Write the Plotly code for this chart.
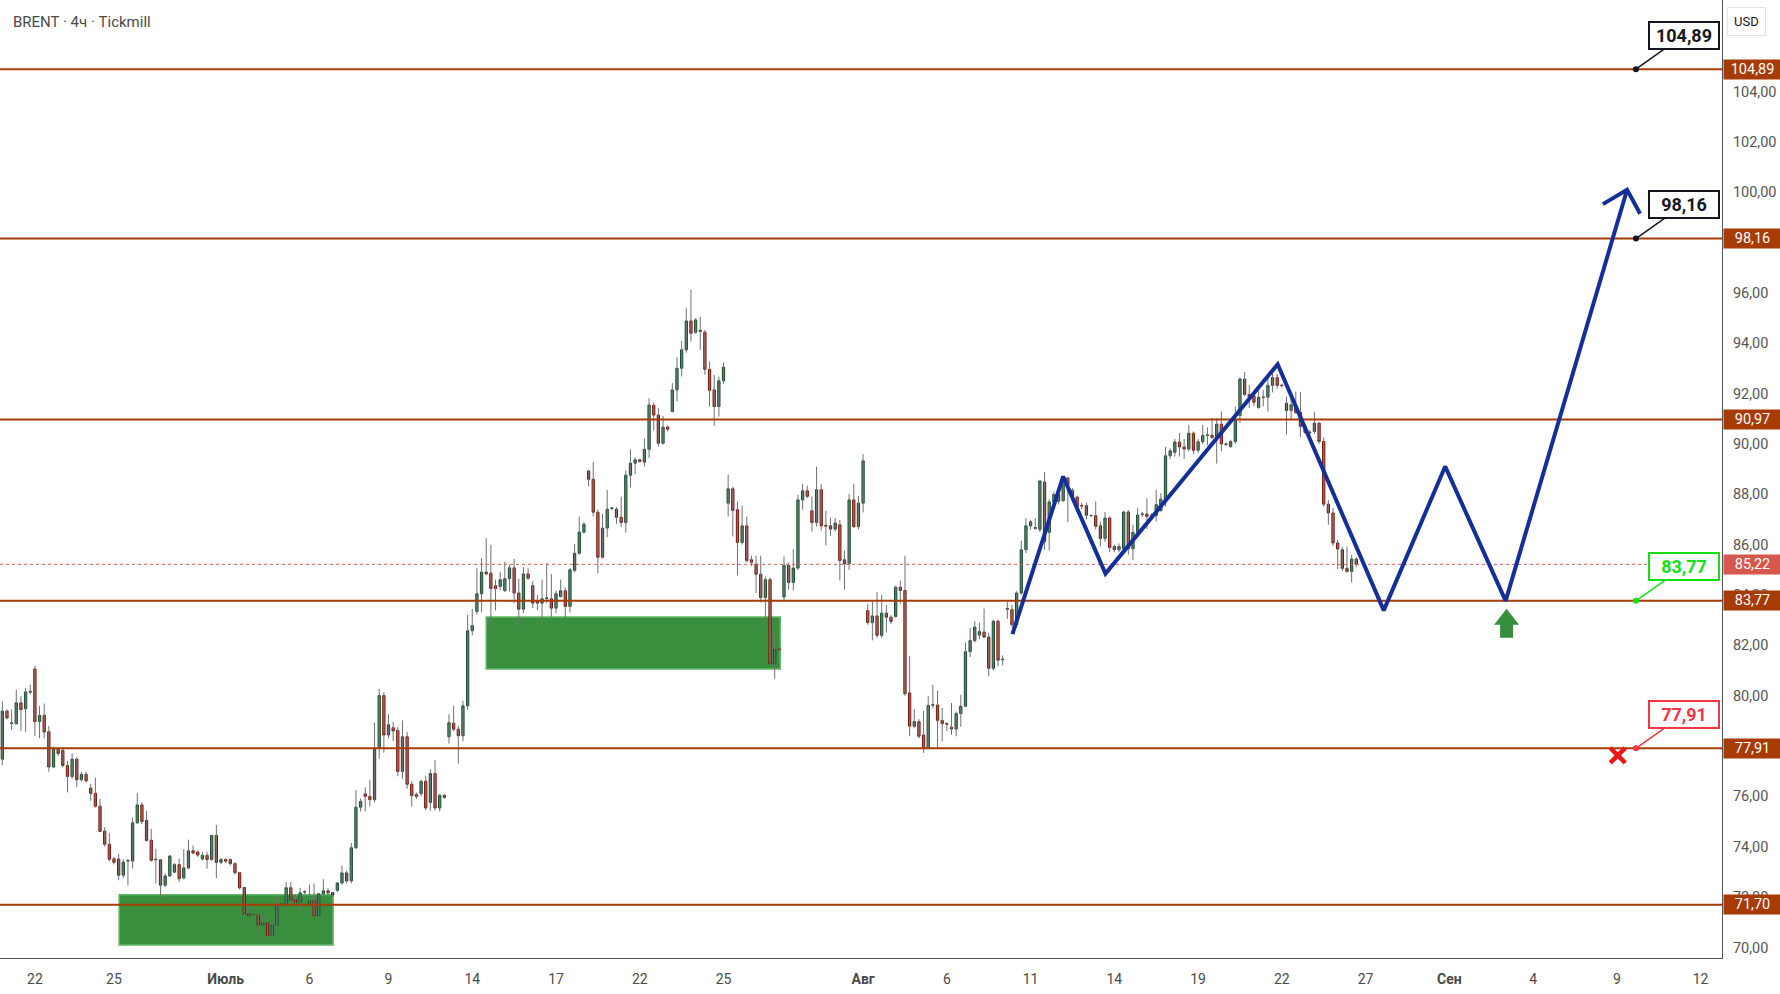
import plotly.graph_objects as go

# BRENT 4h bars, one value per bar, weekends skipped (bar index = x position)
OPEN = [
    77.48, 79.39, 78.90, 78.89, 79.72, 79.48, 80.14, 81.06, 78.97, 79.22,
    78.57, 77.17, 77.91, 77.83, 77.23, 76.79, 77.48, 76.66, 76.88, 76.33,
    76.12, 75.61, 74.62, 74.10, 73.52, 73.51, 72.87, 73.43, 73.43, 74.95,
    75.66, 75.05, 74.26, 73.48, 73.48, 72.47, 72.84, 72.99, 73.29, 72.76,
    73.16, 73.84, 73.79, 73.51, 73.66, 73.49, 74.45, 73.38, 73.49, 73.49,
    73.33, 72.97, 72.38, 71.34, 71.29, 71.29, 70.89, 70.98, 70.46, 70.89,
    71.72, 71.66, 72.37, 71.89, 71.79, 72.20, 71.68, 71.85, 71.25, 72.13,
    72.25, 72.18, 72.27, 72.56, 72.96, 72.64, 73.96, 75.57, 76.10, 76.00,
    75.87, 77.91, 80.01, 78.44, 78.73, 78.62, 76.99, 78.37, 76.48, 76.07,
    76.11, 76.60, 75.76, 76.91, 75.54, 76.04, 78.37, 78.91, 78.67, 78.41,
    79.60, 82.58, 83.35, 84.05, 84.91, 84.87, 84.37, 84.34, 84.18, 84.65,
    85.08, 84.08, 83.44, 84.84, 84.37, 83.76, 83.68, 83.86, 83.85, 83.48,
    83.94, 84.17, 83.55, 84.98, 85.66, 86.50, 88.93, 88.60, 87.29, 85.50,
    86.66, 87.44, 87.41, 87.09, 86.88, 88.76, 89.24, 89.37, 89.28, 89.79,
    91.54, 91.15, 90.03, 90.67, 91.29, 92.15, 93.01, 93.74, 94.89, 94.44,
    94.52, 94.44, 92.97, 92.15, 91.49, 92.51, 87.65, 88.22, 87.39, 86.09,
    86.75, 85.40, 85.23, 84.83, 83.90, 84.61, 81.26, 81.86, 83.92, 85.18,
    84.50, 85.07, 87.78, 88.14, 87.35, 86.88, 88.18, 86.77, 86.75, 86.62,
    86.79, 85.40, 85.24, 87.78, 86.72, 87.65, 83.38, 82.91, 83.17, 82.40,
    83.28, 83.12, 83.15, 84.31, 84.18, 80.11, 78.79, 78.97, 78.44, 77.90,
    79.62, 79.63, 79.02, 78.89, 78.75, 78.68, 79.29, 79.58, 81.75, 82.19,
    82.41, 82.53, 82.33, 81.09, 82.96, 81.43, 83.46, 83.42, 82.82, 84.08,
    85.80, 86.75, 86.64, 86.60, 88.49, 86.49, 87.70, 87.99, 87.75, 88.65,
    88.16, 87.89, 87.56, 87.55, 87.15, 87.15, 86.75, 86.25, 87.06, 85.93,
    85.80, 85.84, 87.30, 85.84, 86.49, 87.20, 87.22, 87.14, 87.16, 87.36,
    87.81, 89.53, 89.67, 90.08, 89.88, 89.80, 90.43, 89.75, 90.09, 90.34,
    90.35, 90.26, 90.79, 89.98, 89.90, 90.10, 91.13, 92.58, 91.97, 91.92,
    91.45, 91.87, 91.86, 92.33, 92.64, 92.34, 91.62, 91.33, 91.53, 91.25,
    90.70, 90.47, 90.50, 90.83, 90.10, 87.61, 87.26, 86.07, 85.80, 85.06, 84.94, 85.43,
]
HIGH = [
    79.78, 79.45, 79.45, 80.24, 79.98, 80.31, 80.44, 81.19, 79.59, 79.69,
    78.80, 77.98, 77.95, 77.95, 77.41, 77.71, 77.55, 76.97, 76.99, 76.49,
    76.75, 75.90, 74.78, 74.55, 73.60, 73.72, 73.50, 73.52, 75.17, 76.13,
    75.76, 75.43, 74.71, 73.92, 73.50, 72.93, 73.68, 73.35, 73.53, 73.90,
    74.28, 74.05, 73.85, 73.80, 73.80, 74.47, 74.87, 73.55, 73.55, 73.53,
    73.38, 73.00, 72.41, 71.68, 71.32, 71.35, 71.29, 71.35, 71.00, 72.08,
    71.75, 72.60, 72.60, 72.12, 72.37, 72.28, 72.50, 72.54, 72.17, 72.71,
    72.35, 72.20, 72.60, 73.26, 73.05, 74.15, 76.25, 75.92, 76.36, 76.66,
    78.93, 80.27, 80.14, 79.26, 78.95, 78.76, 79.02, 78.56, 76.62, 76.15,
    76.65, 76.82, 77.08, 77.44, 76.10, 76.10, 79.26, 79.60, 78.80, 79.80,
    83.22, 83.45, 85.07, 85.47, 86.26, 86.00, 84.61, 84.92, 85.33, 85.20,
    85.44, 84.65, 85.11, 85.07, 84.56, 84.00, 84.61, 85.27, 84.84, 84.18,
    84.61, 84.30, 85.07, 86.03, 87.12, 86.90, 88.97, 89.29, 87.40, 87.23,
    88.18, 87.50, 87.50, 87.91, 88.95, 89.79, 89.47, 89.42, 90.23, 91.82,
    91.65, 91.44, 91.12, 90.75, 92.42, 93.45, 94.10, 95.40, 96.12, 95.00,
    95.06, 94.53, 93.28, 92.75, 92.68, 93.24, 88.78, 88.30, 87.72, 87.55,
    87.12, 85.56, 85.56, 85.56, 84.74, 84.70, 82.42, 82.00, 85.53, 85.30,
    85.82, 87.98, 88.42, 88.34, 87.92, 89.10, 88.42, 87.35, 87.08, 87.06,
    86.98, 85.77, 88.02, 88.42, 87.94, 89.60, 83.65, 83.74, 84.12, 84.01,
    83.60, 83.20, 84.37, 84.57, 85.56, 81.57, 79.47, 79.07, 79.41, 79.98,
    80.44, 80.20, 79.51, 78.95, 79.71, 79.38, 80.04, 82.12, 82.69, 82.96,
    82.90, 83.46, 82.50, 83.02, 83.02, 81.60, 83.72, 83.60, 84.15, 86.16,
    87.06, 86.99, 87.06, 88.58, 88.89, 87.80, 88.12, 88.10, 88.72, 88.70,
    88.25, 87.95, 87.66, 87.68, 87.20, 87.72, 86.92, 87.30, 87.12, 86.00,
    86.05, 87.35, 87.38, 86.79, 87.46, 87.30, 87.85, 87.25, 88.18, 88.05,
    89.88, 89.83, 90.20, 90.43, 90.20, 90.76, 90.50, 90.20, 90.76, 90.66,
    91.03, 91.03, 91.29, 90.06, 90.17, 91.49, 92.64, 92.86, 92.35, 92.10,
    92.13, 92.15, 92.68, 92.95, 92.80, 92.40, 91.88, 92.02, 92.08, 92.06,
    90.80, 90.55, 91.28, 90.86, 90.27, 87.78, 87.46, 86.20, 85.91, 85.93, 85.60, 85.50,
]
LOW = [
    77.24, 79.06, 78.64, 78.85, 78.60, 78.56, 80.05, 78.40, 78.31, 78.30,
    76.98, 77.12, 77.60, 77.15, 76.16, 76.70, 76.36, 76.60, 76.55, 75.83,
    75.55, 74.60, 74.00, 73.42, 73.30, 72.67, 72.75, 72.47, 73.13, 74.90,
    74.90, 74.20, 73.40, 72.54, 72.01, 72.40, 72.80, 72.95, 72.60, 72.70,
    73.10, 73.70, 73.60, 73.45, 73.13, 73.45, 72.76, 73.30, 73.35, 73.25,
    72.90, 72.30, 71.25, 71.20, 71.00, 70.60, 70.85, 70.32, 70.36, 70.85,
    71.68, 71.60, 71.80, 71.49, 71.46, 72.10, 71.20, 71.22, 71.20, 72.05,
    72.10, 72.00, 72.20, 72.50, 72.55, 72.55, 73.90, 75.40, 75.40, 75.60,
    75.76, 77.50, 77.74, 78.30, 78.20, 76.80, 76.70, 76.30, 75.59, 75.90,
    76.00, 75.45, 75.43, 75.45, 75.40, 75.90, 78.10, 78.60, 77.30, 78.19,
    79.44, 82.40, 83.22, 83.31, 84.80, 82.66, 83.39, 84.20, 84.12, 84.14,
    83.68, 82.69, 83.28, 84.60, 83.48, 83.40, 83.04, 83.68, 83.12, 83.28,
    83.90, 82.85, 83.31, 84.90, 85.60, 86.44, 88.31, 87.12, 84.87, 85.45,
    86.30, 87.36, 86.83, 86.70, 86.48, 88.28, 88.80, 89.26, 89.10, 89.44,
    90.54, 89.90, 89.98, 90.50, 91.25, 91.69, 92.68, 93.63, 94.07, 94.38,
    93.74, 92.76, 91.49, 90.72, 91.09, 92.40, 87.12, 86.33, 84.78, 86.00,
    85.30, 85.15, 84.08, 83.70, 82.82, 81.20, 80.67, 81.80, 83.80, 84.21,
    84.18, 85.00, 87.39, 87.85, 86.53, 86.72, 86.57, 85.97, 86.35, 86.52,
    84.58, 84.21, 85.00, 86.66, 86.60, 87.28, 82.82, 82.20, 82.30, 82.29,
    82.52, 82.85, 83.10, 83.65, 80.00, 78.39, 78.71, 78.30, 77.73, 77.88,
    79.50, 77.90, 78.19, 78.60, 78.45, 78.39, 78.76, 79.55, 81.54, 82.12,
    82.24, 82.30, 80.77, 81.00, 81.17, 81.20, 83.05, 82.70, 82.70, 84.00,
    85.67, 86.60, 86.60, 86.50, 85.80, 85.78, 87.60, 87.60, 87.70, 86.89,
    87.80, 87.40, 87.40, 87.00, 87.10, 86.60, 85.93, 86.10, 85.71, 85.70,
    85.70, 85.80, 85.60, 85.40, 86.40, 87.10, 86.62, 87.05, 86.93, 87.30,
    87.52, 89.40, 89.50, 89.50, 89.40, 89.70, 89.60, 89.65, 90.00, 89.95,
    90.20, 89.22, 89.71, 89.92, 89.85, 90.00, 90.83, 91.90, 91.43, 91.50,
    91.40, 91.50, 91.29, 92.05, 92.20, 92.25, 90.37, 90.97, 91.20, 90.27,
    90.40, 90.30, 90.40, 90.00, 87.50, 86.79, 85.95, 85.03, 84.95, 84.88, 84.50, 85.10,
]
CLOSE = [
    79.39, 79.12, 78.92, 79.72, 79.45, 80.15, 80.17, 78.97, 79.22, 78.56,
    77.17, 77.91, 77.70, 77.23, 76.79, 77.48, 76.66, 76.88, 76.62, 76.12,
    75.61, 74.61, 74.10, 73.50, 73.38, 72.87, 73.39, 73.45, 74.95, 75.66,
    75.00, 74.25, 73.46, 73.50, 72.47, 72.84, 73.63, 73.29, 72.73, 73.16,
    73.84, 73.75, 73.67, 73.66, 73.49, 74.45, 73.38, 73.49, 73.43, 73.33,
    72.97, 72.37, 71.32, 71.25, 71.30, 70.89, 70.98, 70.46, 70.89, 71.72,
    71.72, 72.37, 71.88, 71.79, 72.17, 72.21, 71.85, 71.25, 72.13, 72.25,
    72.16, 72.08, 72.56, 72.96, 72.64, 73.96, 75.57, 75.80, 76.00, 75.87,
    77.91, 80.01, 78.44, 78.85, 78.60, 76.99, 78.37, 76.48, 76.03, 76.00,
    76.60, 75.54, 76.91, 75.54, 76.04, 75.96, 78.93, 78.67, 78.41, 79.60,
    82.58, 82.78, 84.05, 84.91, 84.84, 84.26, 84.26, 84.61, 84.65, 85.08,
    84.08, 83.44, 84.84, 84.67, 83.68, 83.68, 83.85, 83.88, 83.48, 84.05,
    84.17, 83.55, 85.00, 85.66, 86.50, 86.81, 88.60, 87.29, 85.50, 86.66,
    87.41, 87.46, 87.09, 86.88, 88.76, 89.24, 89.37, 89.31, 89.79, 91.55,
    91.15, 90.03, 90.67, 90.59, 92.15, 93.01, 93.74, 94.89, 94.40, 94.93,
    94.48, 92.97, 92.13, 91.49, 92.51, 93.05, 88.22, 87.36, 86.09, 86.75,
    85.37, 85.30, 84.83, 83.90, 84.61, 81.26, 81.85, 81.84, 85.18, 84.50,
    85.07, 87.78, 88.14, 87.92, 86.88, 88.18, 86.75, 86.74, 86.62, 86.86,
    85.37, 85.24, 87.78, 86.72, 87.65, 89.33, 82.91, 83.17, 82.40, 83.28,
    83.12, 82.95, 84.31, 84.18, 80.08, 78.79, 78.97, 78.39, 77.90, 79.61,
    79.64, 79.02, 78.89, 78.87, 78.68, 79.29, 79.58, 81.75, 82.19, 82.73,
    82.55, 82.33, 81.09, 82.96, 81.41, 81.45, 83.44, 82.82, 84.08, 85.80,
    86.75, 86.91, 86.68, 88.53, 86.13, 87.70, 87.99, 87.72, 88.67, 88.36,
    87.92, 87.52, 87.54, 87.17, 87.16, 86.73, 86.25, 87.06, 85.89, 85.80,
    85.93, 87.30, 85.84, 86.49, 87.18, 87.22, 87.12, 87.16, 87.59, 87.81,
    89.53, 89.73, 90.08, 89.88, 89.80, 90.43, 89.75, 90.09, 90.34, 90.36,
    90.26, 90.79, 90.00, 90.00, 90.10, 90.96, 92.58, 91.97, 91.86, 91.66,
    91.86, 91.85, 92.33, 92.64, 92.33, 92.32, 91.33, 91.56, 91.25, 90.70,
    90.46, 90.45, 90.83, 90.10, 87.61, 87.26, 86.07, 85.83, 85.06, 84.94, 85.43, 85.22,
]

# date labels sit on bar positions
X_TICKS = [7, 24, 48, 66, 83, 101, 119, 137, 155, 185, 203, 221, 239, 257, 275, 293, 311, 329, 347, 365]
X_LABELS = ["22", "25", "<b>Июль</b>", "6", "9", "14", "17", "22", "25", "<b>Авг</b>",
            "6", "11", "14", "19", "22", "27", "<b>Сен</b>", "4", "9", "12"]
# 98 and 78 sit fully under the level labels, so they are not shown
Y_TICKS = [70, 72, 74, 76, 80, 82, 84, 86, 88, 90, 92, 94, 96, 100, 102, 104]

LEVELS = [104.89, 98.16, 90.97, 83.77, 77.91, 71.70]
LAST_PRICE = 85.22

# demand zones (bar from/to, price from/to)
ZONE_X0 = [25.1, 104.0]
ZONE_X1 = [71.1, 167.2]
ZONE_Y0 = [70.10, 81.06]
ZONE_Y1 = [72.09, 83.13]

# projected path drawn on the chart
PATH_X = [217.1, 228.0, 237.1, 274.1, 296.9, 310.1, 323.1, 349.2]
PATH_Y = [82.45, 88.71, 84.85, 93.17, 83.39, 89.11, 83.77, 100.10]
HEAD_X = [344.0, 349.2, 352.0]
HEAD_Y = [99.53, 100.10, 99.15]

CALLOUT_BAR = 351.1
CALLOUT_LEVELS = [104.89, 98.16, 83.77, 77.91]
CALLOUT_COLORS = ["#131722", "#131722", "#14e014", "#f23645"]

ENTRY_BAR, ENTRY_PRICE = 323.3, 83.77
STOP_BAR, STOP_PRICE = 347.2, 77.63

X_RANGE = [-0.5, 369.6]
Y_RANGE = [69.58, 107.64]

LEVEL_COLOR = "#a63c04"
PATH_COLOR = "#142f97"
FONT = "Roboto, DejaVu Sans, sans-serif"


def fmt(v):
    return f"{v:.2f}".replace(".", ",")


bars = list(range(len(CLOSE)))
wick_x, wick_y = [], []
for i in bars:
    wick_x += [i, i, None]
    wick_y += [LOW[i], HIGH[i], None]

fig = go.Figure()

fig.add_trace(go.Scatter(x=wick_x, y=wick_y, mode="lines",
                         line=dict(color="#6f7076", width=1), hoverinfo="skip"))
fig.add_trace(go.Candlestick(
    x=bars, open=OPEN, close=CLOSE,
    high=[max(o, c) for o, c in zip(OPEN, CLOSE)],
    low=[min(o, c) for o, c in zip(OPEN, CLOSE)],
    increasing=dict(fillcolor="#378a57", line=dict(color="#1d4a2e", width=1)),
    decreasing=dict(fillcolor="#e2432f", line=dict(color="#6e1a10", width=1)),
))

for lvl in LEVELS:
    fig.add_trace(go.Scatter(x=X_RANGE, y=[lvl, lvl], mode="lines",
                             line=dict(color=LEVEL_COLOR, width=2), hoverinfo="skip"))
fig.add_trace(go.Scatter(x=X_RANGE, y=[LAST_PRICE, LAST_PRICE], mode="lines",
                         line=dict(color="#d25a4e", width=1, dash="dot"), hoverinfo="skip"))

fig.add_trace(go.Scatter(x=PATH_X, y=PATH_Y, mode="lines",
                         line=dict(color=PATH_COLOR, width=4)))
fig.add_trace(go.Scatter(x=HEAD_X, y=HEAD_Y, mode="lines",
                         line=dict(color=PATH_COLOR, width=4)))

fig.add_trace(go.Scatter(x=[CALLOUT_BAR] * len(CALLOUT_LEVELS), y=CALLOUT_LEVELS, mode="markers",
                         marker=dict(color=CALLOUT_COLORS, size=6)))
fig.add_trace(go.Scatter(x=[STOP_BAR], y=[STOP_PRICE], mode="markers",
                         marker=dict(symbol="x-thin", size=15,
                                     line=dict(color="#f01515", width=4.5))))

for x0, x1, y0, y1 in zip(ZONE_X0, ZONE_X1, ZONE_Y0, ZONE_Y1):
    fig.add_shape(type="rect", x0=x0, x1=x1, y0=y0, y1=y1, layer="below",
                  fillcolor="#3a8f3e", line=dict(color="#62b866", width=1.5))

# long entry arrow under the 83,77 level
fig.add_shape(type="path", xsizemode="pixel", ysizemode="pixel",
              xanchor=ENTRY_BAR, yanchor=ENTRY_PRICE,
              path="M 0 -8 L 12.5 -24 L 6.5 -24 L 6.5 -37 L -6.5 -37 L -6.5 -24 L -12.5 -24 Z",
              fillcolor="#388e3c", line=dict(width=0))

# price labels on the right axis
for lvl in LEVELS:
    fig.add_annotation(x=1, xref="paper", xanchor="left", xshift=1, y=lvl, yref="y",
                       text=fmt(lvl), showarrow=False, bgcolor=LEVEL_COLOR,
                       font=dict(family=FONT, size=14.5, color="white"),
                       width=55, align="center", borderpad=1)
fig.add_annotation(x=1, xref="paper", xanchor="left", xshift=1, y=LAST_PRICE, yref="y",
                   text=fmt(LAST_PRICE), showarrow=False, bgcolor="#d6574b",
                   font=dict(family=FONT, size=14.5, color="white"),
                   width=55, align="center", borderpad=1)

# callouts
for lvl, col in zip(CALLOUT_LEVELS, CALLOUT_COLORS):
    fig.add_annotation(x=CALLOUT_BAR, y=lvl, ax=48, ay=-34, text=f"<b>{fmt(lvl)}</b>",
                       showarrow=True, arrowhead=0, arrowwidth=1.5, arrowcolor=col,
                       font=dict(family=FONT, size=18, color=col), width=64,
                       bgcolor="white", bordercolor=col, borderwidth=2, borderpad=2)

fig.add_annotation(x=0, xref="paper", xanchor="left", xshift=11, y=1, yref="paper",
                   yanchor="top", yshift=-11, text="BRENT · 4ч · Tickmill", showarrow=False,
                   font=dict(family=FONT, size=15, color="#4a4a4a"))
fig.add_annotation(x=1, xref="paper", xanchor="left", xshift=5, y=1, yref="paper",
                   yanchor="top", yshift=-7, text="USD", showarrow=False,
                   font=dict(family=FONT, size=13, color="#131722"),
                   bgcolor="white", bordercolor="#e0e3eb", borderwidth=1, borderpad=6)

fig.update_layout(
    width=1780, height=994,
    margin=dict(l=0, r=58, t=0, b=36),
    paper_bgcolor="white", plot_bgcolor="white",
    showlegend=False, hovermode=False,
    font=dict(family=FONT, size=13, color="#4a4a4a"),
    xaxis=dict(range=X_RANGE, tickvals=X_TICKS, ticktext=X_LABELS, showgrid=False,
               zeroline=False, showline=True, linecolor="#50535e", linewidth=1,
               ticks="", ticklabelstandoff=8, rangeslider=dict(visible=False),
               tickfont=dict(size=14, color="#4a4a4a")),
    yaxis=dict(range=Y_RANGE, side="right", tickvals=Y_TICKS,
               ticktext=[fmt(v) for v in Y_TICKS], showgrid=False, zeroline=False,
               showline=True, linecolor="#50535e", linewidth=1, ticks="",
               ticklabelstandoff=7, tickfont=dict(size=14.5, color="#555555")),
)

# drop the default page margin so the chart fills the window like the screenshot
fig.write_html("out.html", config={"displayModeBar": False},
               post_script="document.body.style.margin = '0px';")
